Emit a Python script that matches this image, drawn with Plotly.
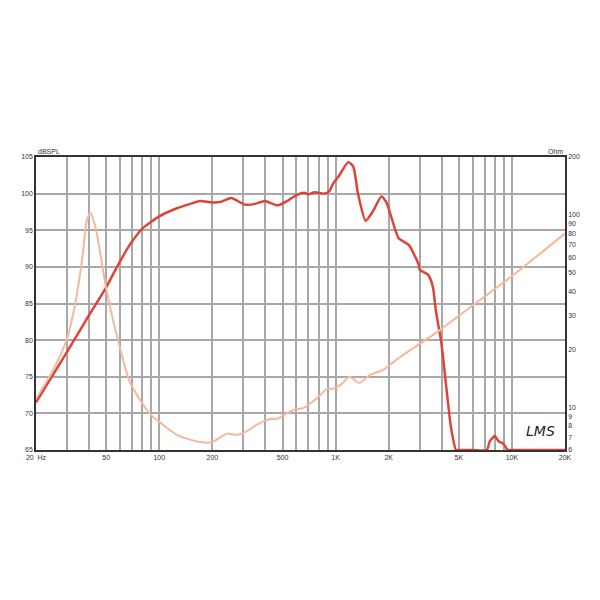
import plotly.graph_objects as go

# SPL response (dB)
spl_freq = [20, 25, 30, 40, 50, 57, 68, 80, 100, 126, 150, 170, 200, 225, 256, 306, 350, 397, 470, 540, 600, 670, 700, 760, 860, 920, 970, 1050, 1180, 1260, 1340, 1480, 1620, 1820, 1950, 2280, 2600, 2960, 3000, 3350, 3560, 3700, 3980, 4240, 4500, 4820, 5000, 6000, 7200, 7500, 8000, 8400, 8900, 9500, 10000, 15000, 20000]
spl_db = [71.5, 75.3, 78.4, 83.4, 87.2, 89.8, 93.0, 95.2, 96.9, 98.0, 98.6, 99.0, 98.8, 98.9, 99.4, 98.5, 98.6, 99.0, 98.4, 99.1, 99.8, 100.1, 99.9, 100.2, 100.0, 100.3, 101.4, 102.5, 104.3, 103.7, 100.0, 96.3, 97.5, 99.6, 98.7, 93.9, 93.0, 90.3, 89.6, 88.9, 87.3, 84.1, 79.6, 73.7, 68.3, 65.0, 65.0, 65.0, 65.0, 66.2, 66.9, 66.2, 65.9, 65.0, 65.0, 65.0, 65.0]

# Impedance (Ohm)
imp_freq = [20, 25, 30, 33.4, 36.5, 38.9, 40.7, 43.4, 46, 50, 60, 68, 88, 100, 126, 170, 200, 222, 243, 275, 313, 356, 424, 465, 527, 600, 655, 780, 890, 970, 1080, 1200, 1360, 1560, 1850, 2200, 3900, 5000, 10000, 20000]
imp_ohm = [11.1, 15.6, 22.8, 34.7, 58.3, 94.0, 102.7, 86.7, 65.7, 41.5, 20.2, 13.6, 9.3, 8.4, 7.2, 6.6, 6.6, 6.98, 7.3, 7.2, 7.5, 8.1, 8.7, 8.7, 9.3, 9.8, 9.9, 11.1, 12.4, 12.5, 13.2, 14.4, 13.4, 14.7, 15.6, 17.6, 25.2, 29.9, 48.1, 80.2]

x_grid = [20, 30, 40, 50, 60, 70, 80, 90, 100, 200, 300, 400, 500, 600, 700, 800, 900,
          1000, 2000, 3000, 4000, 5000, 6000, 7000, 8000, 9000, 10000, 20000]
x_labels = {20: "20  Hz", 50: "50", 100: "100", 200: "200", 500: "500", 1000: "1K",
            2000: "2K", 5000: "5K", 10000: "10K", 20000: "20K"}
db_ticks = [65, 70, 75, 80, 85, 90, 95, 100, 105]
ohm_ticks = [6, 7, 8, 9, 10, 20, 30, 40, 50, 60, 70, 80, 90, 100, 200]

fig = go.Figure()
fig.add_trace(go.Scatter(x=imp_freq, y=imp_ohm, yaxis="y2", mode="lines",
                         line=dict(color="#f5b89b", width=2, shape="spline", smoothing=0.8),
                         showlegend=False, hoverinfo="skip"))
fig.add_trace(go.Scatter(x=spl_freq, y=spl_db, mode="lines",
                         line=dict(color="#dc4438", width=2.5, shape="spline", smoothing=0.6),
                         showlegend=False, cliponaxis=True))

tick_font = dict(family="Liberation Sans, Arial", size=7, color="#333")
fig.update_layout(
    width=600, height=600,
    margin=dict(l=28, r=43, t=149, b=158, autoexpand=False),
    paper_bgcolor="white", plot_bgcolor="white",
    xaxis=dict(type="log", range=[1.30103, 4.30103], automargin=False,
               tickvals=x_grid, ticktext=[x_labels.get(v, "") for v in x_grid],
               showgrid=True, gridcolor="#a8a8a8", gridwidth=1.5,
               showline=True, linecolor="#333", linewidth=1.5, mirror=True,
               ticks="", tickfont=tick_font, zeroline=False),
    yaxis=dict(range=[65, 105], tickvals=db_ticks, ticktext=[str(v) for v in db_ticks],
               automargin=False,
               showgrid=True, gridcolor="#a8a8a8", gridwidth=1.5,
               showline=True, linecolor="#333", linewidth=1.5, mirror=True,
               ticks="", tickfont=tick_font, zeroline=False),
    yaxis2=dict(type="log", range=[0.778151, 2.30103], overlaying="y", side="right",
                automargin=False,
                tickvals=ohm_ticks, ticktext=[str(v) for v in ohm_ticks],
                showgrid=False, showline=True, linecolor="#333", linewidth=1.5,
                ticks="", tickfont=tick_font, zeroline=False),
    annotations=[
        dict(text="dBSPL", xref="paper", yref="paper", x=0, y=1.0, xanchor="left",
             yanchor="bottom", showarrow=False, font=dict(family="Liberation Sans, Arial", size=7, color="#333")),
        dict(text="Ohm", xref="paper", yref="paper", x=1.0, y=1.0, xanchor="right",
             yanchor="bottom", showarrow=False, font=dict(family="Liberation Sans, Arial", size=7, color="#333")),
        dict(text="<i>LMS</i>", xref="paper", yref="paper", x=0.985, y=0.03, xanchor="right",
             yanchor="bottom", showarrow=False, font=dict(family="DejaVu Sans", size=14, color="#222")),
    ],
)
fig.write_html("out.html")
